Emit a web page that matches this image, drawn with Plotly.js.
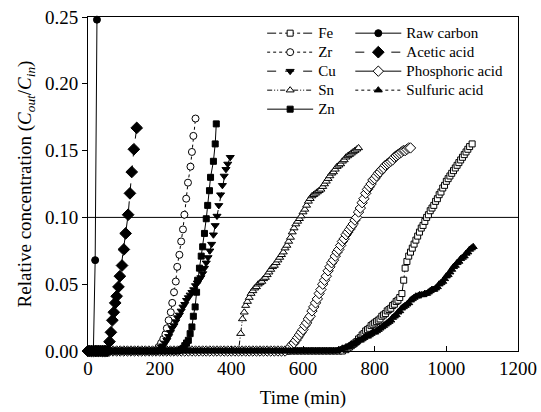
<!DOCTYPE html>
<html>
<head>
<meta charset="utf-8">
<script src="https://cdn.plot.ly/plotly-3.0.1.min.js"></script>
<style>html,body{margin:0;padding:0;background:#fff;}#chart{width:541px;height:412px;}</style>
</head>
<body>
<div id="chart"></div>
<script>
// ---- Data (time in min, relative concentration Cout/Cin) ----
const feX = [0,10,20,30,40,50,60,70,80,90,100,110,120,130,140,150,160,170,180,190,200,210,220,230,240,250,260,270,280,290,300,310,320,330,340,350,360,370,380,390,400,410,420,430,440,450,460,470,480,490,500,510,520,530,540,550,560,570,580,590,600,610,620,630,640,650,660,670,680,690,700,710,
  720,725,730,735,740,745,750,755,760,765,770,775,780,785,790,795,800,805,810,815,820,825,830,835,840,845,850,855,860,865,870,876,881,885,890,895,900,905,910,915,920,925,930,935,940,945,950,955,960,965,970,975,980,985,990,995,1000,1005,1010,1015,1020,1025,1030,1035,1040,1045,1050,1055,1060,1065,1072];
const feY = [0,0,0,0,0,0,0,0,0,0,0,0,0,0,0,0,0,0,0,0,0,0,0,0,0,0,0,0,0,0,0,0,0,0,0,0,0,0,0,0,0,0,0,0,0,0,0,0,0,0,0,0,0,0,0,0,0,0,0,0,0,0,0,0,0,0,0,0,0,0,0,0,
  0.001,0.002,0.003,0.004,0.005,0.006,0.007,0.009,0.010,0.012,0.013,0.015,0.016,0.017,0.019,0.020,0.021,0.022,0.023,0.024,0.026,0.027,0.028,0.030,0.031,0.032,0.034,0.035,0.037,0.038,0.040,0.043,0.053,0.062,0.067,0.071,0.074,0.077,0.080,0.083,0.086,0.089,0.092,0.094,0.097,0.100,0.102,0.105,0.107,0.109,0.112,0.114,0.117,0.119,0.122,0.124,0.127,0.129,0.131,0.133,0.135,0.137,0.139,0.141,0.143,0.145,0.147,0.149,0.151,0.153,0.155];

const zrX = [0,10,20,30,40,50,60,70,80,90,100,110,120,130,140,150,160,170,180,190,
  197,204,210,216,220,225,231,235,240,245,249,255,260,265,269,274,279,286,290,294,300];
const zrY = [0,0,0,0,0,0,0,0,0,0,0,0,0,0,0,0,0,0,0,0,
  0.003,0.006,0.009,0.0125,0.017,0.023,0.029,0.036,0.044,0.052,0.063,0.072,0.082,0.091,0.102,0.114,0.126,0.138,0.149,0.161,0.174];

const cuX = [0,10,20,30,40,50,60,70,80,90,100,110,120,130,140,150,160,170,180,190,
  200,205,210,215,220,225,230,235,240,245,250,255,260,265,270,275,280,285,290,295,300,305,310,315,320,325,330,335,340,345,350,355,360,365,370,375,380,385,390,397];
const cuY = [0,0,0,0,0,0,0,0,0,0,0,0,0,0,0,0,0,0,0,0,
  0.001,0.003,0.004,0.006,0.008,0.011,0.014,0.017,0.019,0.022,0.025,0.027,0.030,0.033,0.035,0.038,0.040,0.042,0.044,0.046,0.049,0.051,0.053,0.055,0.058,0.062,0.066,0.070,0.075,0.080,0.087,0.094,0.101,0.109,0.117,0.124,0.131,0.136,0.140,0.145];

const snX = [0,10,20,30,40,50,60,70,80,90,100,110,120,130,140,150,160,170,180,190,200,210,220,230,240,250,260,270,280,290,300,310,320,330,340,350,360,370,380,390,400,410,420,
  426,431,436,440,445,450,455,460,465,470,475,480,485,490,495,500,505,510,515,520,525,530,535,540,545,550,555,560,565,570,575,580,585,590,595,600,605,610,615,620,625,630,635,640,645,650,655,660,665,670,675,680,685,690,695,700,705,710,715,720,725,730,735,740,745,750,755];
const snY = [0,0,0,0,0,0,0,0,0,0,0,0,0,0,0,0,0,0,0,0,0,0,0,0,0,0,0,0,0,0,0,0,0,0,0,0,0,0,0,0,0,0,0,
  0.013,0.024,0.029,0.034,0.037,0.040,0.043,0.045,0.047,0.048,0.050,0.051,0.052,0.054,0.055,0.057,0.059,0.061,0.063,0.064,0.066,0.068,0.070,0.072,0.074,0.077,0.079,0.082,0.085,0.089,0.092,0.095,0.097,0.099,0.101,0.104,0.106,0.109,0.112,0.114,0.116,0.117,0.118,0.119,0.120,0.121,0.123,0.125,0.127,0.129,0.131,0.133,0.134,0.136,0.138,0.139,0.140,0.142,0.143,0.145,0.146,0.147,0.148,0.149,0.150,0.151,0.152];

const znX = [0,10,20,30,40,50,60,70,80,90,100,110,120,130,140,150,160,170,180,190,200,210,220,230,240,250,
  260,265,270,275,280,285,290,294,299,303,306,311,316,320,325,330,334,339,342,350,355,358];
const znY = [0,0,0,0,0,0,0,0,0,0,0,0,0,0,0,0,0,0,0,0,0,0,0,0,0,0,
  0.001,0.002,0.004,0.006,0.008,0.013,0.018,0.026,0.033,0.044,0.053,0.062,0.071,0.078,0.088,0.099,0.109,0.120,0.130,0.142,0.155,0.170];

const rawX = [0,5,10,15,20,25];
const rawY = [0,0,0,0,0.068,0.248];

const aceX = [0,5,10,15,20,25,30,35,40,45,50,55,
  60,64,68,72,76,80,85,89,95,100,105,112,117,122,128,136];
const aceY = [0,0,0,0,0,0,0,0,0,0,0,0,
  0.007,0.014,0.023,0.029,0.036,0.041,0.048,0.056,0.064,0.076,0.088,0.102,0.118,0.134,0.151,0.167];

const phoX = [0,10,20,30,40,50,60,70,80,90,100,110,120,130,140,150,160,170,180,190,200,210,220,230,240,250,260,270,280,290,300,310,320,330,340,350,360,370,380,390,400,410,420,430,440,450,460,470,480,490,500,510,520,530,540,550,
  560,565,570,575,580,585,590,595,600,605,610,615,620,625,630,635,640,645,650,655,660,665,670,675,680,685,690,695,700,705,710,715,720,725,730,735,740,745,750,755,760,765,770,775,780,785,790,795,800,805,810,815,820,825,830,835,840,845,850,855,860,865,870,875,880,885,890,895,900];
const phoY = [0,0,0,0,0,0,0,0,0,0,0,0,0,0,0,0,0,0,0,0,0,0,0,0,0,0,0,0,0,0,0,0,0,0,0,0,0,0,0,0,0,0,0,0,0,0,0,0,0,0,0,0,0,0,0,0,
  0.001,0.003,0.005,0.006,0.008,0.010,0.012,0.014,0.016,0.019,0.021,0.024,0.026,0.030,0.033,0.036,0.039,0.043,0.046,0.050,0.053,0.056,0.060,0.063,0.066,0.068,0.071,0.074,0.076,0.079,0.082,0.084,0.087,0.089,0.091,0.093,0.095,0.098,0.100,0.104,0.107,0.111,0.114,0.118,0.121,0.123,0.125,0.128,0.129,0.131,0.133,0.134,0.136,0.137,0.139,0.140,0.141,0.142,0.143,0.145,0.146,0.147,0.148,0.149,0.150,0.150,0.151,0.152,0.152];

const sulX = [0,5,10,15,20,25,30,35,40,45,50,55,60,65,70,75,80,85,90,95,100,105,110,115,120,125,130,135,140,145,150,155,160,165,170,175,180,185,190,195,200,205,210,215,220,225,230,235,240,245,250,255,260,265,270,275,280,285,290,295,300,305,310,315,320,325,330,335,340,345,350,355,360,365,370,375,380,385,390,395,400,405,410,415,420,425,430,435,440,445,450,455,460,465,470,475,480,485,490,495,500,505,510,515,520,525,530,535,540,545,550,555,560,565,570,575,580,585,590,595,600,605,610,615,620,625,630,635,640,645,650,655,660,665,670,675,680,685,690,695,
  700,705,710,715,720,725,730,735,740,745,750,755,760,765,770,775,780,785,790,795,800,805,810,815,820,825,830,835,840,845,850,855,860,865,870,875,880,885,890,895,900,905,910,915,920,925,930,935,940,945,950,955,960,965,970,975,980,985,990,995,1000,1005,1010,1015,1020,1025,1030,1035,1040,1045,1050,1055,1060,1065,1070,1075];
const sulY = [0,0,0,0,0,0,0,0,0,0,0,0,0,0,0,0,0,0,0,0,0,0,0,0,0,0,0,0,0,0,0,0,0,0,0,0,0,0,0,0,0,0,0,0,0,0,0,0,0,0,0,0,0,0,0,0,0,0,0,0,0,0,0,0,0,0,0,0,0,0,0,0,0,0,0,0,0,0,0,0,0,0,0,0,0,0,0,0,0,0,0,0,0,0,0,0,0,0,0,0,0,0,0,0,0,0,0,0,0,0,0,0,0,0,0,0,0,0,0,0,0,0,0,0,0,0,0,0,0,0,0,0,0,0,0,0,0,0,0,0,
  0.001,0.001,0.002,0.002,0.003,0.003,0.004,0.005,0.005,0.006,0.007,0.008,0.008,0.009,0.010,0.011,0.011,0.012,0.013,0.014,0.014,0.015,0.016,0.017,0.018,0.019,0.020,0.021,0.022,0.023,0.025,0.026,0.027,0.029,0.030,0.032,0.033,0.034,0.035,0.036,0.038,0.039,0.040,0.041,0.041,0.042,0.042,0.042,0.043,0.043,0.044,0.045,0.046,0.046,0.047,0.048,0.050,0.051,0.052,0.054,0.056,0.057,0.059,0.061,0.063,0.064,0.066,0.067,0.069,0.070,0.071,0.073,0.074,0.076,0.077,0.078];

const seriesNames = ['Fe','Zr','Cu','Sn','Zn','Raw carbon','Acetic acid','Phosphoric acid','Sulfuric acid'];
const yTicks = [0,0.05,0.10,0.15,0.20,0.25];
const xTicks = [0,200,400,600,800,1000,1200];

// ---- Styles ----
const K = '#000';
const FONT = 'Liberation Serif';
function tr(x, y, idx, sym, size, filled, dash, leg) {
  return {
    x: x, y: y, type: 'scatter', mode: 'lines+markers',
    name: '<span style="font-size:15px">' + seriesNames[idx] + '</span>',
    legendrank: idx + 1,
    cliponaxis: false, legend: leg,
    line: {color: K, width: 1, dash: dash},
    marker: {symbol: sym, size: size, color: filled ? K : '#fff', line: {color: K, width: 1}}
  };
}
// open-symbol series drawn first so filled ones cover the zero baseline
const data = [
  tr(feX, feY, 0, 'square', 6, false, 'dashdot', 'legend'),
  tr(zrX, zrY, 1, 'circle', 7, false, 'dot', 'legend'),
  tr(snX, snY, 3, 'triangle-up', 7, false, '5px,2px,1px,2px,1px,2px', 'legend'),
  tr(phoX, phoY, 7, 'diamond', 8, false, 'solid', 'legend2'),
  tr(cuX, cuY, 2, 'triangle-down', 7, true, 'dash', 'legend'),
  tr(znX, znY, 4, 'square', 6, true, 'solid', 'legend'),
  tr(rawX, rawY, 5, 'circle', 7, true, 'solid', 'legend2'),
  tr(aceX, aceY, 6, 'diamond', 9, true, 'dash', 'legend2'),
  tr(sulX, sulY, 8, 'triangle-up', 7, true, 'dot', 'legend2')
];

const legendCommon = {
  bgcolor: 'rgba(0,0,0,0)', borderwidth: 0, font: {family: FONT, size: 12, color: K},
  xanchor: 'left', yanchor: 'top', itemwidth: 46, tracegroupgap: 0, traceorder: 'normal'
};
const layout = {
  width: 541, height: 412,
  margin: {l: 88, r: 23, t: 17, b: 61},
  paper_bgcolor: '#fff', plot_bgcolor: '#fff',
  font: {family: FONT, size: 19, color: K},
  showlegend: true,
  legend: Object.assign({x: 0.405, y: 0.995}, legendCommon),
  legend2: Object.assign({x: 0.610, y: 0.995}, legendCommon),
  xaxis: {
    range: [0, 1200], tickvals: xTicks, ticktext: xTicks.map(String),
    ticks: 'inside', ticklen: 5, tickwidth: 1, tickcolor: K,
    showline: true, linecolor: K, linewidth: 1, mirror: true,
    showgrid: false, zeroline: false,
    tickfont: {family: FONT, size: 19, color: K},
    title: {text: 'Time (min)', font: {family: FONT, size: 19, color: K}, standoff: 12}
  },
  yaxis: {
    range: [0, 0.25], tickvals: yTicks, ticktext: yTicks.map(v => v.toFixed(2)),
    ticks: 'outside', ticklen: 5, tickwidth: 1, tickcolor: K,
    showline: true, linecolor: K, linewidth: 1, mirror: true,
    showgrid: false, zeroline: false,
    tickfont: {family: FONT, size: 19, color: K},
    title: {text: 'Relative concentration (<i>C</i><sub><i>out</i></sub>/<i>C</i><sub><i>in</i></sub>)', font: {family: FONT, size: 19, color: K}, standoff: 8}
  },
  shapes: [{type: 'line', xref: 'paper', yref: 'y', x0: 0, x1: 1, y0: 0.1, y1: 0.1, line: {color: K, width: 1}, layer: 'below'}]
};
Plotly.newPlot('chart', data, layout, {displayModeBar: false, staticPlot: true});
</script>
</body>
</html>
